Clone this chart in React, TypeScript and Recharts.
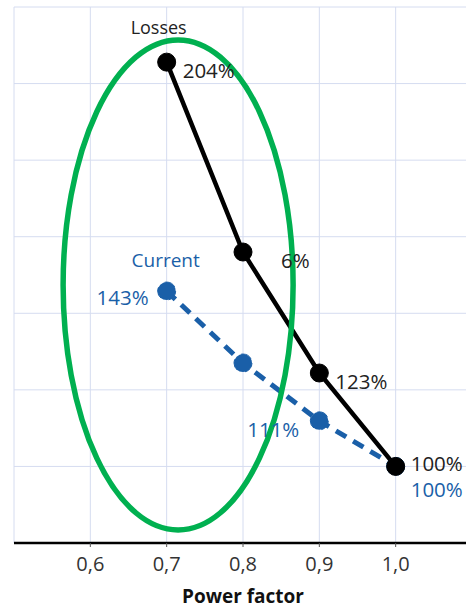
import {CartesianGrid, LineChart, XAxis, Line, YAxis, ReferenceDot} from "recharts";

// power factor on x, relative value (%) on y
const powerFactor = [0.7, 0.8, 0.9, 1.0];
const losses = [205.6, 156, 124.4, 100];
const current = [145.8, 127, 111.9, 100];
const lossLabels = ["204%", "6%", "123%", "100%"];
const currentLabels = ["143%", "", "111%", "100%"];
const xTicks = [0.6, 0.7, 0.8, 0.9, 1.0];
const yTicks = [80, 100, 120, 140, 160, 180, 200, 220];

const data = powerFactor.map((pf, i) => ({pf, losses: losses[i], current: current[i]}));

const FONT = "'Open Sans', sans-serif";
const BLUE = "#1a5fa8";
const PCT = 20.5;

// label offsets relative to each dot
const lossPos = [
    {dx: 16, dy: 8, anchor: "start"},
    {dx: 38, dy: 8, anchor: "start"},
    {dx: 16, dy: 8, anchor: "start"},
    {dx: 15, dy: -3, anchor: "start"},
];
const currentPos = [
    {dx: -18, dy: 6, anchor: "end"},
    {dx: 0, dy: 0, anchor: "start"},
    {dx: -20, dy: 8, anchor: "end"},
    {dx: 15, dy: 23, anchor: "start"},
];

const LossLabel = (props: any) => {
    const {x, y, index} = props;
    const p = lossPos[index];
    return (
        <g>
            {index === 0 && (
                <text x={x - 8} y={y - 35} textAnchor="middle" dominantBaseline="central"
                      fontFamily={FONT} fontSize={18} fill="#222">Losses</text>
            )}
            <text x={x + p.dx} y={y + p.dy} textAnchor={p.anchor} dominantBaseline="central"
                  fontFamily={FONT} fontSize={PCT} fill="#222">{lossLabels[index]}</text>
        </g>
    );
};

const CurrentLabel = (props: any) => {
    const {x, y, index} = props;
    const p = currentPos[index];
    return (
        <g>
            {index === 0 && (
                <text x={x - 1} y={y - 31} textAnchor="middle" dominantBaseline="central"
                      fontFamily={FONT} fontSize={19} fill={BLUE}>Current</text>
            )}
            <text x={x + p.dx} y={y + p.dy} textAnchor={p.anchor} dominantBaseline="central"
                  fontFamily={FONT} fontSize={PCT} fill={BLUE}>{currentLabels[index]}</text>
        </g>
    );
};

const Ellipse = (props: any) => (
    <ellipse cx={props.cx} cy={props.cy} rx={115} ry={245} fill="none" stroke="#00b050" strokeWidth={5.5}/>
);

const App = () => {
    return (
        <div style={{position: "absolute", left: 0, top: 0, width: 466, height: 610, overflow: "hidden", background: "#fff"}}>
            <LineChart width={480} height={610} data={data} margin={{top: 7, right: 8, left: 14, bottom: 0}}>
                <CartesianGrid stroke="#d5dcf0" strokeWidth={1}/>
                <XAxis dataKey="pf" type="number" domain={[0.5, 1.1]} ticks={xTicks} height={67}
                       tickFormatter={(v: number) => v.toFixed(1).replace(".", ",")}
                       axisLine={{stroke: "#000", strokeWidth: 2.5}} tickLine={{stroke: "#555"}} tickSize={4} tickMargin={10}
                       tick={{fill: "#333", fontSize: 20, fontFamily: FONT}}
                       label={{value: "Power factor", position: "insideBottom", offset: 7, fill: "#111", fontSize: 19, fontWeight: 700, fontFamily: FONT}}/>
                <YAxis type="number" domain={[80, 220]} ticks={yTicks} width={0} tick={{fill: "none", fontSize: 1}} tickLine={false}
                       axisLine={{stroke: "#000", strokeWidth: 2.5}}/>
                <Line type="linear" dataKey="current" stroke={BLUE} strokeWidth={5} strokeDasharray="12 8"
                      dot={{r: 9, fill: BLUE, stroke: BLUE, strokeWidth: 1}} activeDot={false}
                      label={<CurrentLabel/>} isAnimationActive={false}/>
                <Line type="linear" dataKey="losses" stroke="#000" strokeWidth={4.5}
                      dot={{r: 9, fill: "#000", stroke: "#000", strokeWidth: 1}} activeDot={false}
                      label={<LossLabel/>} isAnimationActive={false}/>
                <ReferenceDot x={0.715} y={147.4} shape={<Ellipse/>}/>
            </LineChart>
        </div>
    );
};

export default App;
